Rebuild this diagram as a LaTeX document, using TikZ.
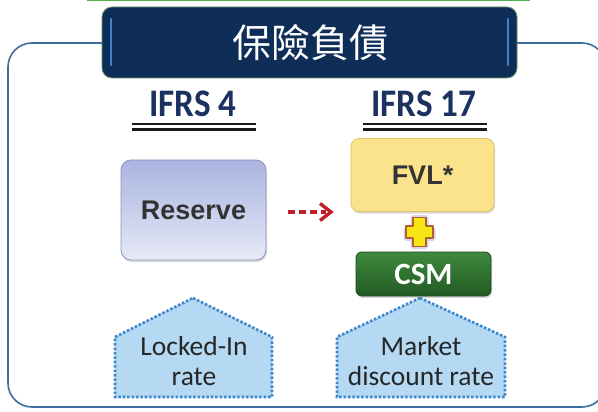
\documentclass[tikz,border=0pt]{standalone}
\usepackage{fontspec}
\setmainfont{Carlito}
\newfontfamily\arialb{Liberation Sans}
\newfontfamily\cjk[AutoFakeBold=2]{Noto Sans CJK TC}
\usetikzlibrary{shadows,shapes.geometric}
\definecolor{navy}{HTML}{0E2D57}
\definecolor{ifrsblue}{HTML}{1B3160}
\definecolor{outline}{HTML}{3C6E9E}
\definecolor{resTop}{HTML}{A9B4E0}
\definecolor{resBot}{HTML}{E6E9F7}
\definecolor{fvlFill}{HTML}{FBE38C}
\definecolor{fvlLine}{HTML}{E2C25E}
\definecolor{csmTop}{HTML}{3F8A3F}
\definecolor{csmBot}{HTML}{225A22}
\definecolor{pentFill}{HTML}{B5D9F3}
\definecolor{pentLine}{HTML}{3D88CD}
\definecolor{arrowred}{HTML}{C01F2A}
\definecolor{plusY}{HTML}{F6E714}
\definecolor{plusO}{HTML}{B5612C}
\tikzset{
  boxtext/.style={font=\arialb\bfseries\fontsize{27}{29}\selectfont, text=black!80},
  ifrs/.style={font=\bfseries\fontsize{39}{40}\selectfont, text=ifrsblue, xscale=0.9},
  dline/.style={line width=2.2pt, black!90},
  pent/.style={fill=pentFill, draw=pentLine, line width=2.6pt, dash pattern=on 2.6pt off 1.8pt},
  penttext/.style={font=\fontsize{27.5}{29.5}\selectfont, text=black!85, align=center},
}
\begin{document}
\begin{tikzpicture}[x=1pt,y=-1pt]
\useasboundingbox (0,0) rectangle (598,412);
\fill[white] (0,0) rectangle (598,412);
% top green line
\draw[line width=1.2pt, green!55!black!70] (87,0.6) -- (530,0.6);
% outer frame
\draw[outline, line width=1.6pt, rounded corners=24pt] (8,43) rectangle (606,407);
% title box
\node[draw=green!30!black!60, line width=0.8pt, fill=navy, rounded corners=10pt,
      minimum width=415pt, minimum height=71pt, inner sep=0pt,
      drop shadow={shadow xshift=0pt, shadow yshift=0pt, opacity=0.25, fill=cyan!40!blue!30}]
      (title) at (309.5,42.5) {};
\draw[line width=2.5pt, cyan!50!blue!80, line cap=round] (111,19) -- (111,65);
\draw[line width=2.5pt, cyan!50!blue!80, line cap=round] (508,19) -- (508,65);
\node[font=\cjk\fontsize{39}{40}\selectfont, text=white] (titletext) at (310,43) {保險負債};
% IFRS headers
\node[ifrs] (ifrs4) at (193,104) {IFRS 4};
\node[ifrs] (ifrs17) at (424,104) {IFRS 17};
\draw[dline] (132,124) -- (256,124);
\draw[dline] (132,129.5) -- (256,129.5);
\draw[dline] (363,124) -- (487,124);
\draw[dline] (363,129.5) -- (487,129.5);
% Reserve box
\node[draw=gray!80!blue!70, line width=0.8pt, rounded corners=10pt, top color=resTop, bottom color=resBot,
      minimum width=145pt, minimum height=100pt, inner sep=0pt,
      drop shadow={shadow xshift=1pt, shadow yshift=-2pt, opacity=0.3}, boxtext]
      (reserve) at (193.5,210) {Reserve};
% FVL box
\node[draw=fvlLine, line width=0.8pt, rounded corners=8pt, fill=fvlFill,
      minimum width=143pt, minimum height=73pt, inner sep=0pt,
      drop shadow={shadow xshift=1pt, shadow yshift=-2pt, opacity=0.3}, boxtext]
      (fvl) at (422.5,175) {FVL*};
% CSM box
\node[draw=csmBot!80!black, line width=0.8pt, rounded corners=6pt, top color=csmTop, bottom color=csmBot,
      minimum width=135pt, minimum height=44pt, inner sep=0pt,
      drop shadow={shadow xshift=1pt, shadow yshift=-2pt, opacity=0.3},
      font=\bfseries\fontsize{31}{32}\selectfont, text=white]
      (csm) at (423.5,274) {CSM};
% plus sign
\coordinate (plus) at (419.5,232);
\fill[cyan!20!blue!15, rounded corners=3pt] ([shift={(-16,-5)}]plus) rectangle ([shift={(16,9)}]plus);
\fill[cyan!20!blue!15, rounded corners=3pt] ([shift={(-9,-17)}]plus) rectangle ([shift={(9,17)}]plus);
\draw[plusO, line width=1.4pt, fill=plusY, line join=round]
  ([shift={(-6.5,-14.5)}]plus) -- ([shift={(6.5,-14.5)}]plus) -- ([shift={(6.5,-6)}]plus)
  -- ([shift={(13.5,-6)}]plus) -- ([shift={(13.5,6)}]plus) -- ([shift={(6.5,6)}]plus)
  -- ([shift={(6.5,14.5)}]plus) -- ([shift={(-6.5,14.5)}]plus) -- ([shift={(-6.5,6)}]plus)
  -- ([shift={(-13.5,6)}]plus) -- ([shift={(-13.5,-6)}]plus) -- ([shift={(-6.5,-6)}]plus) -- cycle;
% dashed arrow
\draw[arrowred, line width=3.2pt, dash pattern=on 7pt off 4pt] (288,212) -- (326,212);
\draw[arrowred, line width=3.4pt, line cap=butt, line join=miter] (320,203.5) -- (331,212) -- (320,220.5);
% pentagons
\draw[pent] (193,298) -- (272,337) -- (272,397) -- (115,397) -- (115,337) -- cycle;
\draw[pent] (420,298) -- (505,337) -- (505,397) -- (337,397) -- (337,337) -- cycle;
\node[penttext] (locked) at (194,361) {Locked-In\\rate};
\node[penttext] (market) at (421,361) {Market\\discount rate};
\end{tikzpicture}
\end{document}
